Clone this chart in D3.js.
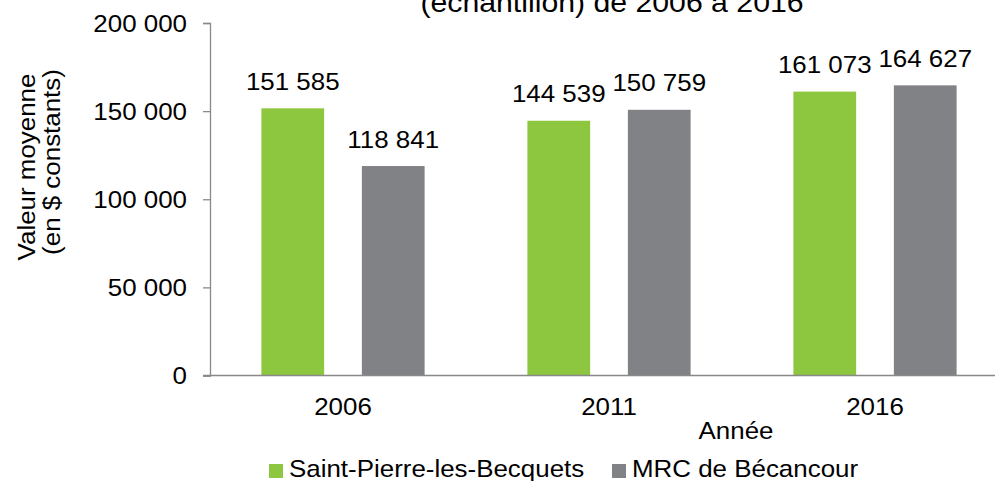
<!DOCTYPE html>
<html><head><meta charset="utf-8">
<script src="https://cdn.jsdelivr.net/npm/d3@7"></script>
<style>body{margin:0;background:#fff}svg{display:block;font-family:"Liberation Sans",Arial,sans-serif}</style>
</head><body>
<script>
const years = ["2006", "2011", "2016"];
const seriesNames = ["Saint-Pierre-les-Becquets", "MRC de Bécancour"];
const stPierre = [151585, 144539, 161073];
const mrc = [118841, 150759, 164627];
const yTicks = [0, 50000, 100000, 150000, 200000];
const colors = ["#8dc63f", "#808285"];
const titleText = "(échantillon) de 2006 à 2016";
const yTitle = ["Valeur moyenne", "(en $ constants)"];
const xTitle = "Année";

const W = 995, H = 481, SX = 1.08, FS = 24;
const svg = d3.select("body").append("svg").attr("width", W).attr("height", H);
const fmt = v => d3.format(",")(v).replace(/,/g, " ");

const x0 = d3.scaleBand().domain(years).range([210, 1008]);
const x1 = d3.scaleBand().domain(seriesNames).range([51.4, x0.bandwidth() - 51.4]).paddingInner(0.3755);
const y = d3.scaleLinear().domain([0, 200000]).range([375.5, 23]);

function txt(g, x, yy, s, anchor, size, rot) {
  return g.append("text")
    .attr("transform", `translate(${x},${yy})${rot ? " rotate(" + rot + ")" : ""} scale(${SX},1)`)
    .attr("text-anchor", anchor).attr("font-size", size).attr("fill", "#000").text(s);
}

// bars
const data = years.map((yr, i) => ({ yr, vals: [stPierre[i], mrc[i]] }));
const groups = svg.append("g").selectAll("g").data(data).join("g")
  .attr("transform", d => `translate(${x0(d.yr)},0)`);
groups.selectAll("rect").data(d => d.vals.map((v, j) => ({ v, s: seriesNames[j], j })))
  .join("rect")
  .attr("x", d => x1(d.s)).attr("width", x1.bandwidth())
  .attr("y", d => y(d.v)).attr("height", d => y(0) - y(d.v))
  .attr("fill", d => colors[d.j]);
groups.each(function (d) {
  const g = d3.select(this);
  d.vals.forEach((v, j) => {
    txt(g, x1(seriesNames[j]) + x1.bandwidth() / 2, y(v) - 18.5, fmt(v), "middle", FS);
  });
});

// y axis
const yAxis = d3.axisLeft(y).tickValues(yTicks).tickSize(7).tickFormat(fmt);
const ya = svg.append("g").attr("transform", "translate(210,0)").call(yAxis);
ya.select(".domain").attr("stroke", "#898989").attr("stroke-width", 1.3);
ya.selectAll(".tick line").attr("stroke", "#898989").attr("stroke-width", 1.3);
ya.selectAll(".tick text").remove();
yTicks.forEach(t => txt(svg, 187, y(t) + 8.5, fmt(t), "end", FS));

// x axis
const xa = svg.append("g").attr("transform", `translate(0,${y(0)})`)
  .call(d3.axisBottom(x0).tickSize(0).tickFormat(""));
xa.select(".domain").attr("stroke", "#898989").attr("stroke-width", 1.3).attr("d", `M203,0H1008`);
years.forEach(yr => txt(svg, x0(yr) + x0.bandwidth() / 2, 415, yr, "middle", FS));

// titles
txt(svg, 736, 439, xTitle, "middle", FS);
txt(svg, 612, 12, titleText, "middle", 28);
txt(svg, 35, 167, yTitle[0], "middle", FS, -90);
txt(svg, 60, 162, yTitle[1], "middle", FS, -90);

// legend
const legX = [269, 612];
seriesNames.forEach((s, i) => {
  svg.append("rect").attr("x", legX[i]).attr("y", 464).attr("width", 14).attr("height", 14).attr("fill", colors[i]);
  txt(svg, legX[i] + 20, 477, s, "start", FS);
});
</script>
</body></html>
